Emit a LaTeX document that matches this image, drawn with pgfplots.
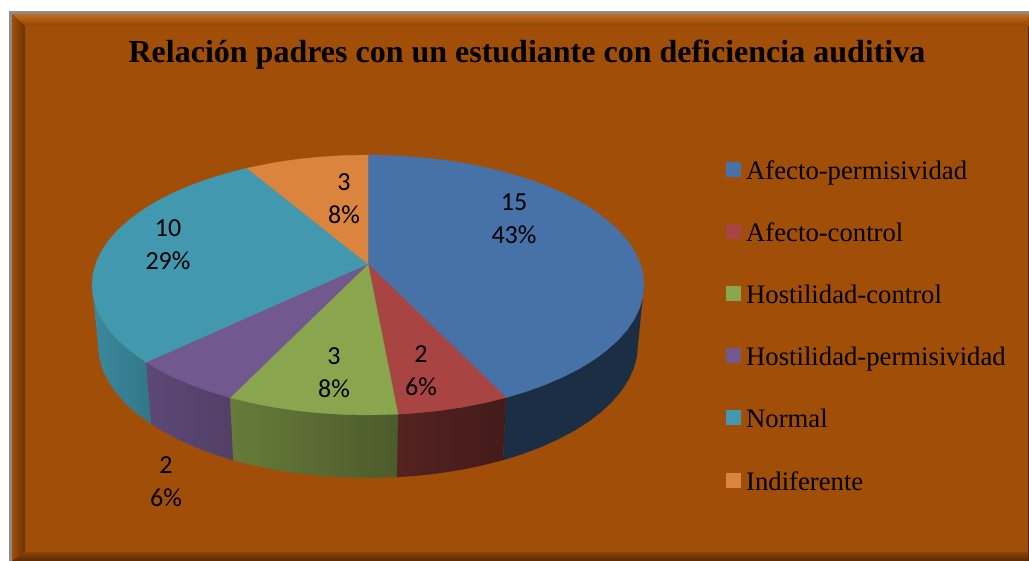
\documentclass[border=0pt]{standalone}
\usepackage{fontspec}
\setmainfont{Liberation Serif}
\newfontfamily\lab{Carlito}
\usepackage{pgfplots}
\pgfplotsset{compat=1.18}
\definecolor{bg}{HTML}{A14E08}
\definecolor{cblue}{HTML}{4672A8}
\definecolor{cred}{HTML}{A84442}
\definecolor{cgreen}{HTML}{89A54E}
\definecolor{cpurple}{HTML}{71588F}
\definecolor{cteal}{HTML}{4198AF}
\definecolor{corange}{HTML}{DB843D}
\newcommand{\leg}[2]{\node[anchor=base west,inner sep=0pt,font=\fontsize{26.7}{28}\selectfont] at (axis cs:746,#1) {#2};}
\newcommand{\dl}[3]{\node[align=center,inner sep=0pt,font=\lab\fontsize{26}{33}\selectfont] at (axis cs:#1,#2) {#3};}
\newcommand{\key}[2]{\addplot[only marks,color=#1,mark=square*,mark size=7pt,mark options={draw=#1,fill=#1,line width=0pt}] coordinates {(733,#2)};}
\begin{document}
\begin{tikzpicture}
\begin{axis}[scale only axis,width=1029pt,height=561pt,xmin=0,xmax=1029,ymin=0,ymax=561,y dir=reverse,hide axis,clip=true]
% page and frame
\addplot[fill=white,draw=none] coordinates {(0,0)(1029,0)(1029,561)(0,561)} -- cycle;
\addplot[fill=black!45,draw=none] coordinates {(9,11)(1029,11)(1029,561)(9,561)} -- cycle;
\addplot[fill=bg,draw=none] coordinates {(12,14)(1029,14)(1029,561)(12,561)} -- cycle;
\addplot[top color=bg!70!orange!90!white,bottom color=bg!90!black,draw=none] coordinates {(12,14)(1029,14)(1028,26)(25,26)} -- cycle;
\addplot[left color=bg,middle color=bg!88!black,right color=bg!65!black,draw=none] coordinates {(12,14)(25,26)(25,552)(12,561)} -- cycle;
\addplot[top color=bg!85!black,bottom color=bg!55!black,draw=none] coordinates {(12,561)(25,552)(1029,552)(1029,561)} -- cycle;
\addplot[fill=bg!50!black,draw=none] coordinates {(1027.5,26)(1029,26)(1029,561)(1027.5,561)} -- cycle;
% walls
\addplot[fill=cblue!40!black,draw=none] coordinates {(644,285)(643,296.3)(639.8,307.6)(634.6,318.6)(627.4,329.5)(618.1,339.9)(607,350)(594.1,359.6)(579.4,368.6)(563.2,376.9)(545.4,384.6)(526.3,391.5)(506,397.6)(503,460.2)(522.9,454)(541.6,446.9)(558.9,439)(574.8,430.5)(589.2,421.3)(601.8,411.5)(612.7,401.2)(621.7,390.5)(628.8,379.4)(633.9,368.1)(637,356.6)(638,345)} -- cycle;
\addplot[left color=cred!50!black,right color=cred!40!black,draw=none] coordinates {(506,397.6)(484.6,402.8)(462.4,407.2)(439.4,410.6)(415.9,413)(398,414.2)(397,477.2)(414.9,476)(437.9,473.5)(460.3,470)(482.1,465.5)(503,460.2)} -- cycle;
\addplot[left color=cgreen!75!black,right color=cgreen!55!black,draw=none] coordinates {(398,414.2)(368,415)(320.1,413)(296.6,410.6)(273.6,407.2)(251.4,402.8)(230,397.6)(233,460.2)(253.9,465.5)(275.7,470)(298.1,473.5)(321.1,476)(368,478)(397,477.2)} -- cycle;
\addplot[left color=cpurple!82!black,right color=cpurple!72!black,draw=none] coordinates {(230,397.6)(209.7,391.5)(190.6,384.6)(172.8,376.9)(156.6,368.6)(146,362.3)(151,424)(161.2,430.5)(177.1,439)(194.4,446.9)(213.1,454)(233,460.2)} -- cycle;
\addplot[left color=cteal!90!black,right color=cteal!78!black,draw=none] coordinates {(146,362.3)(129,350)(117.9,339.9)(108.6,329.5)(101.4,318.6)(96.2,307.6)(93,296.3)(92,285)(98,345)(99,356.6)(102.1,368.1)(107.2,379.4)(114.3,390.5)(123.3,401.2)(134.2,411.5)(151,424)} -- cycle;
% top slices
\addplot[fill=cblue,draw=cblue,line width=0.3pt] coordinates {(368,264)(368,155)(392,155.5)(415.9,157)(439.4,159.4)(462.4,162.8)(484.6,167.2)(506,172.4)(526.3,178.5)(545.4,185.4)(563.2,193.1)(579.4,201.4)(594.1,210.4)(607,220)(618.1,230.1)(627.4,240.5)(634.6,251.4)(639.8,262.4)(643,273.7)(644,285)(643,296.3)(639.8,307.6)(634.6,318.6)(627.4,329.5)(618.1,339.9)(607,350)(594.1,359.6)(579.4,368.6)(563.2,376.9)(545.4,384.6)(526.3,391.5)(506,397.6)} -- cycle;
\addplot[fill=cred,draw=cred,line width=0.3pt] coordinates {(368,264)(506,397.6)(484.6,402.8)(462.4,407.2)(439.4,410.6)(415.9,413)(398,414.2)} -- cycle;
\addplot[fill=cgreen,draw=cgreen,line width=0.3pt] coordinates {(368,264)(398,414.2)(368,415)(344,414.5)(320.1,413)(296.6,410.6)(273.6,407.2)(251.4,402.8)(230,397.6)} -- cycle;
\addplot[fill=cpurple,draw=cpurple,line width=0.3pt] coordinates {(368,264)(230,397.6)(209.7,391.5)(190.6,384.6)(172.8,376.9)(156.6,368.6)(146,362.3)} -- cycle;
\addplot[fill=cteal,draw=cteal,line width=0.3pt] coordinates {(368,264)(146,362.3)(129,350)(117.9,339.9)(108.6,329.5)(101.4,318.6)(96.2,307.6)(93,296.3)(92,285)(93,273.7)(96.2,262.4)(101.4,251.4)(108.6,240.5)(117.9,230.1)(129,220)(141.9,210.4)(156.6,201.4)(172.8,193.1)(190.6,185.4)(209.7,178.5)(230,172.4)(247,168.1)} -- cycle;
\addplot[fill=corange,draw=corange,line width=0.3pt] coordinates {(368,264)(247,168.1)(273.6,162.8)(296.6,159.4)(320.1,157)(344,155.5)(368,155)} -- cycle;
% legend keys
\key{cblue}{170}
\key{cred}{232}
\key{cgreen}{294}
\key{cpurple}{356}
\key{cteal}{418}
\key{corange}{480}
\leg{180}{Afecto-permisividad}
\leg{242}{Afecto-control}
\leg{304}{Hostilidad-control}
\leg{366}{Hostilidad-permisividad}
\leg{428}{Normal}
\leg{490}{Indiferente}
\dl{514}{219}{15\\43\%}
\dl{421}{371}{2\\6\%}
\dl{334}{373}{3\\8\%}
\dl{166}{482}{2\\6\%}
\dl{168}{245}{10\\29\%}
\dl{344}{199}{3\\8\%}
\node[inner sep=0pt,font=\bfseries\fontsize{32}{36}\selectfont] at (axis cs:527,55) {Relación padres con un estudiante con deficiencia auditiva};
\end{axis}
\end{tikzpicture}
\end{document}
